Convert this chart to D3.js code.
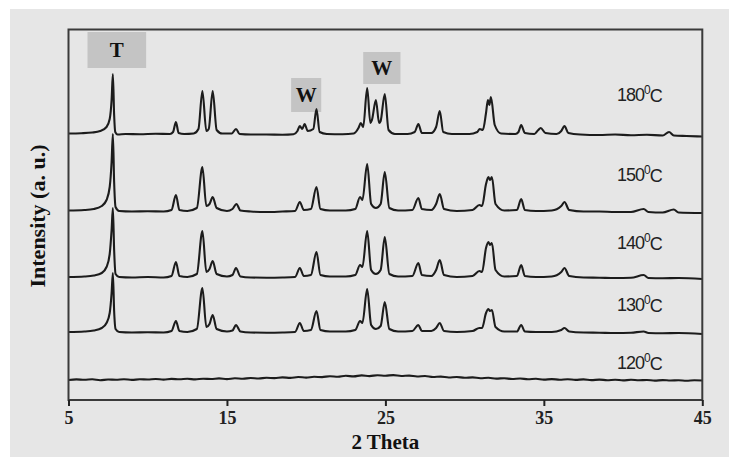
<!DOCTYPE html>
<html>
<head>
<meta charset="utf-8">
<script src="https://cdn.jsdelivr.net/npm/d3@7"></script>
<style>
body { margin: 0; background: #fff; }
svg { display: block; }
</style>
</head>
<body>
<svg id="chart" width="729" height="457"></svg>
<script>
// 2 theta tick labels
var xTicks = [5, 15, 25, 35, 45]

// temperatures, vertical offset of each pattern (a.u.)
var temps = ['180', '150', '140', '130', '120']
var offsets = [265, 188, 122, 67, 20]

// patterns, [2theta, intensity]
var p180 = [[5,1.5],[5.8,1.8],[6.5,2.5],[7,4],[7.4,8],[7.6,16],[7.72,35],[7.8,61],[7.88,20],[7.95,3],[8.1,0.5],[8.6,1],[9.5,0.8],[10.5,1.2],[11.4,1],[11.6,3],[11.78,13],[11.95,2],[12.3,1],[12.9,1.5],[13.2,6],[13.45,44],[13.7,4],[13.85,6],[14.1,44],[14.35,5],[14.7,1.5],[15.3,1.5],[15.57,6],[15.8,1],[16.5,0.5],[17.5,0.5],[18.5,0.3],[19.2,0.8],[19.45,4],[19.6,9],[19.75,6],[19.9,11],[20.1,4],[20.45,6],[20.65,26],[20.85,3],[21.3,1],[22.3,0.8],[23,1.5],[23.3,7],[23.45,12],[23.6,8],[23.85,47],[24.05,12],[24.15,15],[24.4,35],[24.6,12],[24.7,14],[24.96,41],[25.2,5],[25.6,1],[26.4,1],[26.85,3],[27.08,11],[27.3,2],[27.9,2],[28.2,8],[28.43,24],[28.65,3],[29.2,1],[30.3,1],[30.8,3],[30.95,6],[31.15,5],[31.35,22],[31.47,35],[31.56,30],[31.66,38],[31.9,10],[32.3,1.5],[33.2,1],[33.4,3],[33.57,10],[33.8,2],[34.4,1],[34.65,5],[34.8,7],[35.1,2],[35.8,1],[36.1,4],[36.3,9],[36.55,2],[37.3,0.5],[38.5,0],[39.5,0.5],[40.5,-0.3],[41.5,0.3],[42.5,-0.5],[42.9,3],[43.2,-0.5],[44,-1],[45,-1.5]]

var p150 = [[5,1.5],[6,2],[6.6,3],[7.1,6],[7.4,12],[7.6,25],[7.72,50],[7.8,78],[7.88,30],[7.97,5],[8.2,1],[9,0.5],[10,0.8],[11,0.5],[11.5,2],[11.78,17],[12,2],[12.5,1],[13.1,4],[13.45,45],[13.7,6],[13.9,8],[14.1,15],[14.35,4],[15,1],[15.35,3],[15.6,8],[15.85,1.5],[16.5,0.5],[17.5,0],[18.5,0.5],[19.3,1],[19.6,10],[19.85,2],[20.3,3],[20.65,25],[20.9,3],[21.5,1.5],[22.5,1.5],[23.1,3],[23.4,15],[23.55,12],[23.85,48],[24.1,8],[24.4,4],[24.7,8],[24.96,40],[25.25,4],[25.8,1.5],[26.7,2],[27.08,14],[27.3,3],[27.9,2],[28.2,8],[28.43,18],[28.7,3],[29.5,1],[30.5,2],[30.93,7],[31.1,6],[31.35,28],[31.5,35],[31.6,32],[31.72,35],[31.95,8],[32.5,1.5],[33.3,2],[33.57,13],[33.8,2],[34.5,1],[35.5,1.5],[36.1,6],[36.3,10],[36.6,2],[37.5,0.5],[38.5,0.5],[39.5,0],[40.5,0],[41.3,3],[41.6,0],[42.5,-0.5],[43.2,2.5],[43.5,-0.5],[45,-1]]

var p140 = [[5,1],[6,1.5],[6.6,2.5],[7.1,5],[7.4,11],[7.6,24],[7.72,48],[7.8,70],[7.88,28],[7.97,4],[8.2,1],[9,0.5],[10,1],[11,0.5],[11.5,2],[11.78,16],[12,2],[12.5,1],[13.1,4],[13.45,47],[13.7,6],[13.9,9],[14.1,17],[14.35,4],[15,1.5],[15.35,3],[15.57,10],[15.85,1.5],[16.5,0.5],[17.5,0.3],[18.5,0.5],[19.3,1],[19.6,10],[19.85,2],[20.3,3],[20.65,26],[20.9,3],[21.5,1.5],[22.5,1.5],[23.1,3],[23.4,13],[23.55,11],[23.85,47],[24.1,8],[24.4,4],[24.7,8],[24.96,41],[25.25,4],[25.8,1.5],[26.7,2],[27.08,15],[27.3,3],[27.9,2],[28.2,8],[28.43,18],[28.7,3],[29.5,1],[30.5,2],[30.93,7],[31.1,6],[31.35,30],[31.5,36],[31.6,33],[31.72,35],[31.95,8],[32.5,1.5],[33.3,2],[33.57,13],[33.8,2],[34.5,1],[35.5,1.5],[36.1,6],[36.3,10],[36.6,2],[37.5,0.5],[38.5,0.3],[39.5,0],[40.5,0.2],[41.3,3],[41.6,0],[42.5,-0.3],[43.5,0],[45,-1]]

var p130 = [[5,1],[6,1.5],[6.6,2.5],[7.1,5],[7.4,10],[7.6,20],[7.72,40],[7.8,60],[7.88,22],[7.97,4],[8.2,1],[9,0.5],[10,0.8],[11,0.5],[11.5,2],[11.78,12],[12,2],[12.5,1],[13.1,4],[13.45,45],[13.7,6],[13.9,9],[14.1,18],[14.35,4],[15,1.5],[15.35,2.5],[15.57,8],[15.85,1.5],[16.5,0.5],[17.5,0.3],[18.5,0.5],[19.3,1],[19.6,10],[19.85,2],[20.3,3],[20.65,22],[20.9,3],[21.5,1.5],[22.5,1.5],[23.1,3],[23.4,12],[23.55,10],[23.85,44],[24.1,8],[24.4,4],[24.7,7],[24.96,31],[25.25,4],[25.8,1.5],[26.7,2],[27.08,8],[27.3,2],[27.9,2],[28.2,5],[28.43,10],[28.7,2],[29.5,1],[30.5,2],[30.93,5],[31.1,5],[31.35,20],[31.5,24],[31.6,22],[31.72,23],[31.95,6],[32.5,1.5],[33.3,1.5],[33.57,8],[33.8,1.5],[34.5,1],[35.5,1],[36.1,3],[36.3,5],[36.6,1.5],[37.5,0.5],[38.5,0.3],[39.5,0],[40.5,0.3],[41.3,1.5],[41.6,0],[42.5,-0.3],[43.5,0],[45,-1]]

var p120 = [[5,0],[5.5,0.6],[6,0.2],[6.5,0.7],[7,-0.2],[7.5,0.5],[8,0.3],[8.5,0.8],[9,0.1],[9.5,0.7],[10,0.5],[10.5,1],[11,0.4],[11.5,1.1],[12,0.7],[12.5,1.2],[13,0.6],[13.5,1.3],[14,1],[14.5,1.6],[15,0.9],[15.5,1.7],[16,1.3],[16.5,2],[17,1.5],[17.5,2.2],[18,1.9],[18.5,2.6],[19,2.1],[19.5,3],[20,2.4],[20.5,3.2],[21,2.9],[21.5,3.8],[22,3.2],[22.5,4.2],[23,3.6],[23.5,4.6],[24,3.9],[24.5,4.8],[25,4.3],[25.5,4.9],[26,4],[26.5,4.4],[27,3.5],[27.5,4],[28,3],[28.5,3.4],[29,2.5],[29.5,3],[30,2.2],[30.5,2.6],[31,1.8],[31.5,2.2],[32,1.4],[32.5,1.8],[33,1],[33.5,1.5],[34,0.8],[34.5,1.2],[35,0.4],[35.5,0.9],[36,0.3],[36.5,0.8],[37,0.1],[37.5,0.6],[38,-0.1],[38.5,0.4],[39,-0.2],[39.5,0.3],[40,-0.4],[40.5,0.2],[41,-0.3],[41.5,0],[42,-0.6],[42.5,-0.1],[43,-0.5],[43.5,-0.2],[44,-0.7],[44.5,-0.3],[45,-0.5]]

var patterns = [p180, p150, p140, p130, p120]
var labelY = [95, 175, 243, 305, 363]

// phase markers: text and box (2theta range, intensity range)
var markText = ['T', 'W', 'W']
var markX = [[6.2, 9.9], [19.05, 20.95], [23.6, 25.95]]
var markY = [[332, 368], [288, 322], [316, 348]]

var svg = d3.select('#chart')
var m = {left: 68.5, right: 702.3, top: 29.5, bottom: 400}

var x = d3.scaleLinear().domain([5, 45]).range([m.left, m.right])
var y = d3.scaleLinear().domain([0, 370.5]).range([m.bottom, m.top])

// grey backdrop
svg.append('rect').attr('x', 10).attr('y', 9).attr('width', 719).attr('height', 448).attr('fill', '#e6e6e6')

// marker boxes
markText.forEach(function (t, i) {
    svg.append('rect')
        .attr('x', x(markX[i][0])).attr('y', y(markY[i][1]))
        .attr('width', x(markX[i][1]) - x(markX[i][0]))
        .attr('height', y(markY[i][0]) - y(markY[i][1]))
        .attr('fill', '#c4c4c4')
    svg.append('text')
        .attr('x', x((markX[i][0] + markX[i][1]) / 2))
        .attr('y', y((markY[i][0] + markY[i][1]) / 2))
        .attr('dy', '0.35em')
        .attr('text-anchor', 'middle')
        .attr('font-family', 'Liberation Serif')
        .attr('font-weight', 'bold')
        .attr('font-size', 21)
        .attr('fill', '#111')
        .text(t)
})

var line = d3.line()
    .x(function (d) { return x(d[0]) })
    .y(function (d) { return y(d[1]) })
    .curve(d3.curveMonotoneX)

patterns.forEach(function (p, i) {
    var off = offsets[i]
    svg.append('path')
        .datum(p.map(function (d) { return [d[0], d[1] + off] }))
        .attr('d', line)
        .attr('fill', 'none')
        .attr('stroke', '#1c1c1c')
        .attr('stroke-width', 2.1)
        .attr('stroke-linejoin', 'round')

    var lab = svg.append('text')
        .attr('x', 617).attr('y', labelY[i])
        .attr('dy', '0.35em')
        .attr('font-family', 'Liberation Sans')
        .attr('font-size', 18)
        .attr('letter-spacing', -1)
        .attr('fill', '#222')
    lab.append('tspan').text(temps[i])
    lab.append('tspan').attr('font-size', 12).attr('dy', '-0.6em').text('0')
    lab.append('tspan').attr('dy', '0.45em').text('C')
})

// frame
svg.append('rect')
    .attr('x', m.left).attr('y', m.top)
    .attr('width', m.right - m.left).attr('height', m.bottom - m.top)
    .attr('fill', 'none').attr('stroke', '#3a3a3a').attr('stroke-width', 2)

var xAxis = svg.append('g')
    .attr('transform', 'translate(0,' + m.bottom + ')')
    .call(d3.axisBottom(x).tickValues(xTicks).tickSize(6).tickPadding(5).tickFormat(d3.format('d')))
xAxis.select('.domain').remove()
xAxis.selectAll('line').attr('stroke', '#222').attr('stroke-width', 2)
xAxis.selectAll('text')
    .attr('font-family', 'Liberation Serif')
    .attr('font-weight', 'bold')
    .attr('font-size', 18)
    .attr('fill', '#222')

svg.append('text')
    .attr('x', (m.left + m.right) / 2).attr('y', 442)
    .attr('dy', '0.35em')
    .attr('text-anchor', 'middle')
    .attr('font-family', 'Liberation Serif')
    .attr('font-weight', 'bold')
    .attr('font-size', 21)
    .attr('fill', '#111')
    .text('2 Theta')

svg.append('text')
    .attr('transform', 'translate(37,216) rotate(-90)')
    .attr('dy', '0.35em')
    .attr('text-anchor', 'middle')
    .attr('font-family', 'Liberation Serif')
    .attr('font-weight', 'bold')
    .attr('font-size', 22)
    .attr('fill', '#111')
    .text('Intensity (a. u.)')
</script>
</body>
</html>
